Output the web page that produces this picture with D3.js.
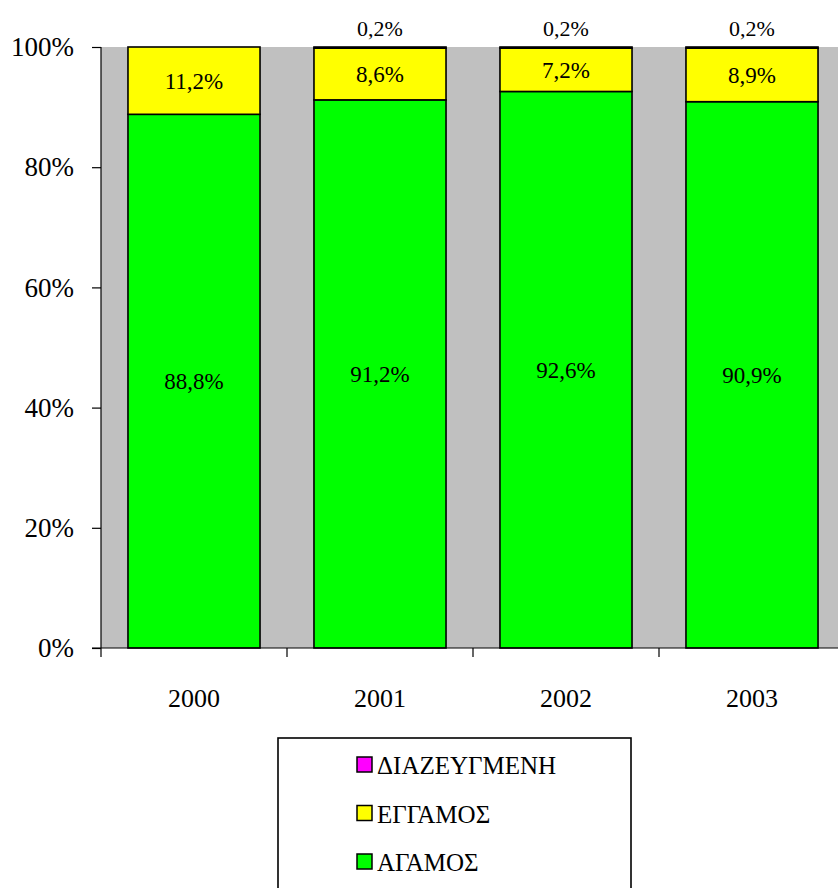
<!DOCTYPE html>
<html>
<head>
<meta charset="utf-8">
<script src="https://cdn.jsdelivr.net/npm/d3@7"></script>
</head>
<body style="margin:0">
<script>
// Data
const years = ["2000", "2001", "2002", "2003"];
const agamos = [88.8, 91.2, 92.6, 90.9];
const eggamos = [11.2, 8.6, 7.2, 8.9];
const diazeygmeni = [0, 0.2, 0.2, 0.2];
const yTicks = [0, 20, 40, 60, 80, 100];

const seriesNames = ["ΑΓΑΜΟΣ", "ΕΓΓΑΜΟΣ", "ΔΙΑΖΕΥΓΜΕΝΗ"];
const seriesColors = ["#00FF00", "#FFFF00", "#FF00FF"];

const FONT = "Liberation Serif";

const svg = d3.select("body")
  .append("svg")
    .attr("width", 838)
    .attr("height", 888);

// Scales
const xScale = d3.scaleBand()
  .domain(years)
  .range([101, 845])
  .paddingInner(0.29)
  .paddingOuter(0.145);
const yScale = d3.scaleLinear()
  .domain([0, 100])
  .range([648, 47]);

// Plot background
svg.append("rect")
    .attr("x", 101)
    .attr("y", yScale(100))
    .attr("width", 845 - 101)
    .attr("height", yScale(0) - yScale(100))
    .attr("fill", "#C0C0C0");

// Stack the data
const table = years.map((y, i) => ({
  year: y,
  s0: agamos[i],
  s1: eggamos[i],
  s2: diazeygmeni[i]
}));
const stacked = d3.stack().keys(["s0", "s1", "s2"])(table);

const layers = svg.selectAll("g.layer")
  .data(stacked)
  .join("g")
    .attr("class", "layer")
    .attr("fill", (d, i) => seriesColors[i]);

layers.selectAll("rect")
  .data(d => d.filter(p => p[1] - p[0] > 0))
  .join("rect")
    .attr("x", d => xScale(d.data.year))
    .attr("y", d => yScale(d[1]))
    .attr("width", xScale.bandwidth())
    .attr("height", d => yScale(d[0]) - yScale(d[1]))
    .attr("stroke", "#000")
    .attr("stroke-width", 1.6);

// Value labels
const fmt = v => d3.format(".1f")(v).replace(".", ",") + "%";

stacked.forEach((layer, i) => {
  layer.forEach(p => {
    const v = p[1] - p[0];
    if (v <= 0) return;
    const cx = xScale(p.data.year) + xScale.bandwidth() / 2;
    const cy = i === 2 ? yScale(100) - 11 : (yScale(p[0]) + yScale(p[1])) / 2 + 8;
    svg.append("text")
      .text(fmt(v))
      .attr("x", cx)
      .attr("y", cy)
      .attr("text-anchor", "middle")
      .attr("font-family", FONT)
      .attr("font-size", i === 2 ? 22 : 23);
  });
});

// Y axis
const yAxis = svg.append("g")
  .attr("transform", "translate(101,0)")
  .call(d3.axisLeft(yScale).tickValues(yTicks).tickSize(9).tickPadding(18)
    .tickFormat(d => d + "%"));
yAxis.attr("font-family", FONT).attr("font-size", 27);
yAxis.selectAll("path, line").attr("stroke", "#000").attr("stroke-width", 1.2);
yAxis.select("path").attr("d", `M0,${yScale(100)}V${yScale(0)}`);
yAxis.selectAll("text")
  .attr("fill", "#000");

// X axis line and ticks at category boundaries
svg.append("line")
    .attr("x1", 92)
    .attr("x2", 845)
    .attr("y1", yScale(0))
    .attr("y2", yScale(0))
    .attr("stroke", "#000")
    .attr("stroke-width", 1.2);
const step = xScale.step();
const bounds = d3.range(years.length + 1).map(i => 101 + i * step);
svg.selectAll("line.xtick")
  .data(bounds)
  .join("line")
    .attr("class", "xtick")
    .attr("x1", d => d)
    .attr("x2", d => d)
    .attr("y1", yScale(0))
    .attr("y2", yScale(0) + 9)
    .attr("stroke", "#000")
    .attr("stroke-width", 1.2);
svg.selectAll("text.xlabel")
  .data(years)
  .join("text")
    .attr("class", "xlabel")
    .text(d => d)
    .attr("x", d => xScale(d) + xScale.bandwidth() / 2)
    .attr("y", 707)
    .attr("text-anchor", "middle")
    .attr("font-family", FONT)
    .attr("font-size", 26);

// Legend
svg.append("rect")
    .attr("x", 278)
    .attr("y", 738)
    .attr("width", 353)
    .attr("height", 170)
    .attr("fill", "#fff")
    .attr("stroke", "#000")
    .attr("stroke-width", 1.6);

const legendOrder = [2, 1, 0];
const legend = svg.selectAll("g.legend")
  .data(legendOrder)
  .join("g")
    .attr("class", "legend")
    .attr("transform", (d, i) => `translate(357, ${765 + i * 48.5})`);
legend.append("rect")
    .attr("x", 0)
    .attr("y", -8)
    .attr("width", 15)
    .attr("height", 15)
    .attr("fill", d => seriesColors[d])
    .attr("stroke", "#000")
    .attr("stroke-width", 1.5);
legend.append("text")
    .text(d => seriesNames[d])
    .attr("x", 20)
    .attr("y", 9)
    .attr("font-family", FONT)
    .attr("font-size", 25);
</script>
</body>
</html>
